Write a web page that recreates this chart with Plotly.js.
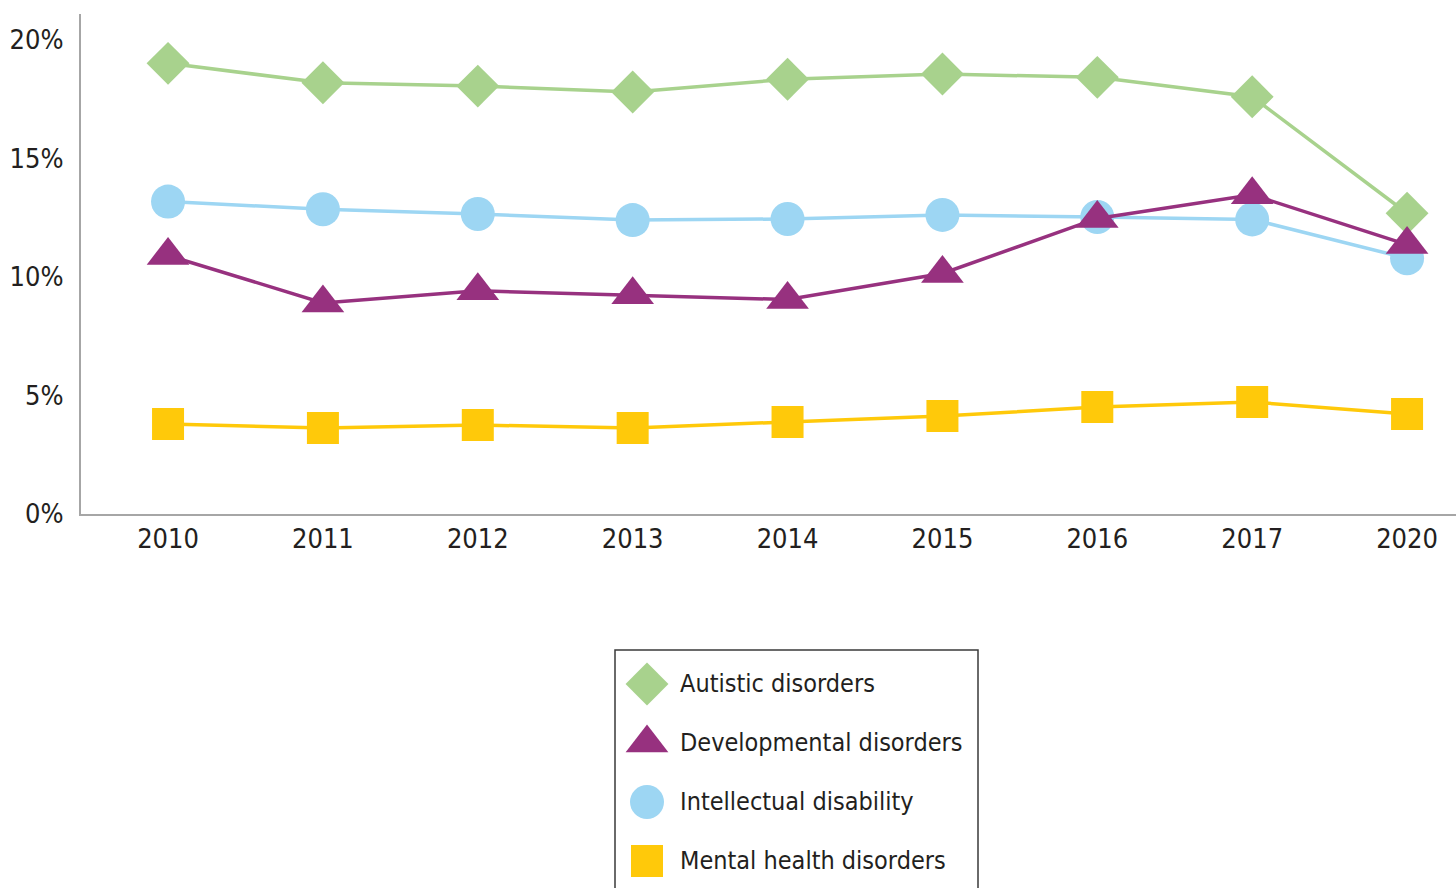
<!DOCTYPE html>
<html>
<head>
<meta charset="utf-8">
<script src="https://cdn.plot.ly/plotly-3.0.1.min.js"></script>
<style>
  html, body { margin: 0; padding: 0; background: #fff; }
  #chart { width: 1456px; height: 888px; }
</style>
</head>
<body>
<div id="chart"></div>
<script>
// ---- data ----
const years = ["2010", "2011", "2012", "2013", "2014", "2015", "2016", "2017", "2020"];
const seriesNames = ["Autistic disorders", "Developmental disorders", "Intellectual disability", "Mental health disorders"];
const autistic      = [19.0, 18.18, 18.04, 17.79, 18.33, 18.55, 18.41, 17.59, 12.68];
const developmental = [10.9, 8.9, 9.41, 9.24, 9.04, 10.14, 12.46, 13.46, 11.36];
const intellectual  = [13.17, 12.85, 12.65, 12.39, 12.44, 12.61, 12.52, 12.42, 10.78];
const mentalHealth  = [3.79, 3.63, 3.75, 3.63, 3.88, 4.13, 4.51, 4.72, 4.22];
const yTickVals  = [0, 5, 10, 15, 20];
const yTickText  = ["0%", "5%", "10%", "15%", "20%"];

// ---- styling ----
const FONT = '"Liberation Sans Narrow", "DejaVu Sans Condensed", "Arial Narrow", sans-serif';
const styles = [
  { color: "#A8D28D", symbol: "diamond",     size: 33 },
  { color: "#97317F", symbol: "triangle-up", size: 37 },
  { color: "#9DD6F3", symbol: "circle",      size: 34 },
  { color: "#FFC90A", symbol: "square",      size: 32 }
];
const values = [autistic, developmental, intellectual, mentalHealth];

// draw order: mental, autistic, intellectual, developmental (triangles on top)
const drawOrder = [3, 0, 2, 1];
const traces = [];
drawOrder.forEach(i => {
  traces.push({
    type: "scatter", mode: "lines+markers",
    x: years, y: values[i], name: seriesNames[i],
    line: { color: styles[i].color, width: 3.5 },
    marker: { color: styles[i].color, symbol: styles[i].symbol, size: styles[i].size },
    xaxis: "x", yaxis: "y", showlegend: false, hoverinfo: "x+y+name"
  });
});

// legend built on a second small subplot
seriesNames.forEach((n, i) => {
  traces.push({
    type: "scatter", mode: "markers",
    x: [0], y: [i], name: n,
    marker: { color: styles[i].color, symbol: styles[i].symbol, size: styles[i].size },
    xaxis: "x2", yaxis: "y2", showlegend: false, hoverinfo: "skip"
  });
});

const W = 1456, H = 888, mL = 81, mT = 14;
const pw = W - mL, ph = H - mT;
const plotBottomPx = 514;
const yDomLow = (H - plotBottomPx) / ph;
const legL = 615, legR = 978, legT = 650;
const x2dom = [(legL - mL) / pw, (legR - mL) / pw];
const y2dom = [0, (H - legT) / ph];

const annotations = seriesNames.map((n, i) => ({
  xref: "x2", yref: "y2", x: 31, y: i, text: n, showarrow: false,
  xanchor: "left", yanchor: "middle",
  font: { family: FONT, size: 25, color: "#231F20" }
}));

const layout = {
  width: W, height: H,
  margin: { l: mL, r: 0, t: mT, b: 0, pad: 0 },
  paper_bgcolor: "#ffffff", plot_bgcolor: "#ffffff",
  showlegend: false,
  font: { family: FONT, color: "#231F20" },
  xaxis: {
    type: "category", range: [-0.562, 8.316], domain: [0, 1],
    showgrid: false, zeroline: false,
    showline: true, linecolor: "#A6A6A6", linewidth: 2,
    ticks: "",
    tickfont: { family: FONT, size: 27, color: "#231F20" },
    anchor: "y", fixedrange: true
  },
  yaxis: {
    range: [0, 21.08], domain: [yDomLow, 1],
    tickvals: yTickVals, ticktext: yTickText,
    showgrid: false, zeroline: false,
    showline: true, linecolor: "#A6A6A6", linewidth: 2,
    ticks: "outside", ticklen: 10, tickcolor: "rgba(0,0,0,0)",
    tickfont: { family: FONT, size: 27, color: "#231F20" },
    anchor: "x", fixedrange: true
  },
  xaxis2: {
    domain: x2dom, range: [-32, 331], anchor: "y2",
    visible: false, fixedrange: true
  },
  yaxis2: {
    domain: y2dom, range: [3.458, -0.576], anchor: "x2",
    visible: false, fixedrange: true
  },
  annotations: annotations,
  shapes: [{
    type: "rect", xref: "x2 domain", yref: "y2 domain",
    x0: 0, x1: 1, y0: -0.02, y1: 1,
    line: { color: "#3A3A3A", width: 1.5 }, fillcolor: "rgba(0,0,0,0)", layer: "below"
  }]
};

Plotly.newPlot("chart", traces, layout, { displayModeBar: false, responsive: false });
</script>
</body>
</html>
